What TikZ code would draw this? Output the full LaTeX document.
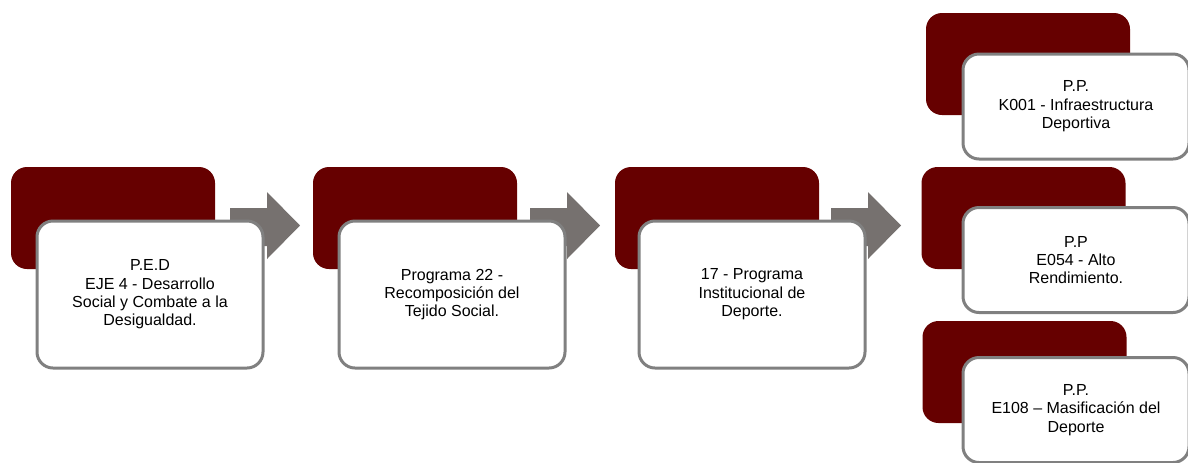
\documentclass[tikz,border=0pt]{standalone}
\usepackage{fontspec}
\setmainfont{Liberation Sans}
\definecolor{maroonbox}{RGB}{102,0,0}
\definecolor{edgegray}{RGB}{128,128,128}
\definecolor{arrowgray}{RGB}{118,113,111}
\begin{document}
\begin{tikzpicture}[x=0.75pt,y=-0.75pt,
  back/.style={fill=maroonbox, draw=none, rounded corners=12pt, minimum width=153pt, minimum height=76.5pt, inner sep=0pt},
  front/.style={fill=white, draw=edgegray, line width=2.25pt, rounded corners=12pt, minimum width=169.5pt, minimum height=110.25pt, align=center, font=\fontsize{12}{13.8}\selectfont, inner sep=0pt},
  frontsm/.style={front, minimum height=78.75pt},
  blockarrow/.style={fill=arrowgray, draw=none}]
\useasboundingbox (0,0) rectangle (1188,462);
\clip (0,0) rectangle (1188,462);

% back boxes
\node[back] (b1) at (113,218) {};
\node[back] (b2) at (415,218) {};
\node[back] (b3) at (717,218) {};
\node[back] (r1b) at (1028,64) {};
\node[back] (r2b) at (1023.5,218) {};
\node[back] (r3b) at (1024.5,372) {};

% block arrows
\foreach \dx in {0,300,601}{
  \fill[blockarrow, xshift=\dx*0.75pt] (230,208) -- (267,208) -- (267,192) -- (300,225.5) -- (267,259) -- (267,246) -- (230,246) -- cycle;
}

% front boxes
\node[front] (f1) at (150,294.5) {P.E.D\\EJE 4 - Desarrollo\\Social y Combate a la\\Desigualdad.};
\node[front] (f2) at (452,294.5) {Programa 22 -\\Recomposición del\\Tejido Social.};
\node[front] (f3) at (752,294.5) {17 - Programa\\Institucional de\\Deporte.};
\node[frontsm] (r1) at (1076,106.5) {P.P.\\K001 - Infraestructura\\Deportiva};
\node[frontsm] (r2) at (1076,260) {P.P\\E054 - Alto\\Rendimiento.};
\node[frontsm] (r3) at (1076,410) {P.P.\\E108 – Masificación del\\Deporte};
\end{tikzpicture}
\end{document}
